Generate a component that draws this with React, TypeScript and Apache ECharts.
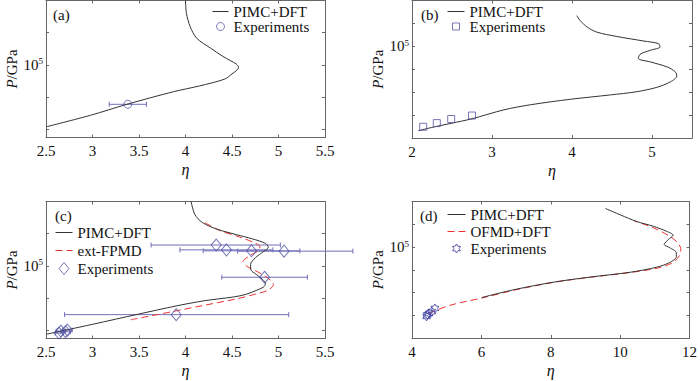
import React, { useEffect, useRef } from "react";
import * as echarts from "echarts";

const FONT = "Liberation Serif, Times New Roman, Times, serif";

// ---------- panel (a) ----------
const aPimcEta = [2.5, 2.98, 3.37, 3.87, 4.15, 4.42, 4.5, 4.56, 4.57, 4.55, 4.48, 4.4, 4.27, 4.12, 4.05, 4.01, 4.0];
const aPimcLgP = [3.08, 3.44, 3.78, 4.17, 4.35, 4.56, 4.72, 4.86, 4.93, 5.02, 5.14, 5.27, 5.52, 5.83, 6.19, 6.6, 7.0];
const aExpEta = [3.38];
const aExpLgP = [3.78];
const aExpLo = [3.18];
const aExpHi = [3.58];

// ---------- panel (b) ----------
const bPimcEta = [2.08, 2.31, 2.49, 2.75, 3.15, 3.48, 3.98, 4.48, 4.81, 5.06, 5.23, 5.31, 5.29, 5.19, 4.98, 4.83, 4.85, 4.98, 5.1, 5.08, 4.9, 4.56, 4.31, 4.19, 4.1, 4.06];
const bPimcLgP = [1.32, 1.51, 1.64, 1.84, 2.23, 2.45, 2.69, 2.88, 3.02, 3.21, 3.45, 3.7, 3.89, 4.1, 4.32, 4.47, 4.65, 4.83, 4.97, 5.12, 5.23, 5.43, 5.62, 5.84, 6.13, 6.34];
const bExpEta = [2.14, 2.31, 2.49, 2.75];
const bExpLgP = [1.49, 1.65, 1.83, 1.98];

// ---------- panel (c) ----------
const cPimcEta = [2.5, 3.0, 3.5, 3.9, 4.2, 4.52, 4.65, 4.76, 4.84, 4.86, 4.83, 4.76, 4.7, 4.7, 4.75, 4.84, 4.89, 4.86, 4.72, 4.55, 4.34, 4.18, 4.1, 4.06];
const cPimcLgP = [2.88, 3.19, 3.51, 3.76, 3.92, 4.04, 4.12, 4.24, 4.35, 4.45, 4.58, 4.74, 4.9, 5.05, 5.25, 5.45, 5.58, 5.7, 5.84, 5.97, 6.14, 6.35, 6.6, 7.0];
const cFpmdEta = [3.41, 3.87, 4.2, 4.55, 4.73, 4.88, 4.945, 4.91, 4.8, 4.66, 4.62, 4.68, 4.78, 4.8, 4.74, 4.58, 4.37, 4.19];
const cFpmdLgP = [3.33, 3.59, 3.78, 3.98, 4.11, 4.24, 4.42, 4.57, 4.78, 4.99, 5.14, 5.3, 5.47, 5.6, 5.72, 5.9, 6.1, 6.37];
const cExpEta = [4.33, 4.44, 4.71, 5.06, 4.85, 3.9, 2.64, 2.66, 2.71, 2.73];
const cExpLgP = [5.65, 5.5, 5.47, 5.46, 4.65, 3.49, 2.92, 2.98, 2.96, 3.01];
const cExpLo = [3.63, 3.94, 4.19, 4.56, 4.39, 2.7, 2.6, 2.61, 2.66, 2.68];
const cExpHi = [5.02, 4.94, 5.23, 5.8, 5.31, 5.11, 2.68, 2.71, 2.76, 2.78];

// ---------- panel (d) ----------
const dPimcEta = [6.01, 6.96, 8.1, 9.15, 10.29, 11.05, 11.43, 11.62, 11.62, 11.43, 11.27, 11.39, 11.53, 11.34, 10.96, 10.48, 10.01, 9.58];
const dPimcLgP = [2.78, 3.13, 3.46, 3.68, 3.89, 4.11, 4.32, 4.57, 4.75, 4.97, 5.11, 5.33, 5.52, 5.69, 5.91, 6.12, 6.41, 6.69];
const dOfmdEta = [4.48, 5.1, 6.05, 7.0, 8.1, 9.15, 10.3, 11.1, 11.5, 11.7, 11.75, 11.65, 11.4, 10.95, 10.4];
const dOfmdLgP = [2.08, 2.44, 2.77, 3.12, 3.45, 3.67, 3.88, 4.08, 4.3, 4.6, 4.9, 5.2, 5.5, 5.85, 6.15];
const dExpEta = [4.42, 4.44, 4.49, 4.57, 4.66];
const dExpLgP = [1.95, 2.02, 2.08, 2.16, 2.3];

// ---------- axes ----------
const aXTicks = [2.5, 3, 3.5, 4, 4.5, 5, 5.5];
const bXTicks = [2, 3, 4, 5];
const cXTicks = [2.5, 3, 3.5, 4, 4.5, 5, 5.5];
const dXTicks = [4, 6, 8, 10, 12];
const acYTicks = [3, 4, 5, 6];
const bdYTicks = [2, 3, 4, 5, 6];
const yLabelValues = [5];

const BLACK = "#333333";
const RED = "#ee3030";
const EXP = "#5555a8";
const EXP_BAR = "#7070bb";
const STAR = "#3838a0";
const DASH = [7, 4];

function hexagramPath(): string {
  const pts: string[] = [];
  for (let k = 0; k < 12; k++) {
    const ang = (-90 + k * 30) * (Math.PI / 180);
    const r = k % 2 === 0 ? 10 : 10 / Math.sqrt(3);
    const x = 10 + r * Math.cos(ang);
    const y = 10 + r * Math.sin(ang);
    pts.push((k === 0 ? "M" : "L") + x.toFixed(3) + "," + y.toFixed(3));
  }
  return "path://" + pts.join("") + "Z";
}

const zip = (xs: number[], ys: number[]) => xs.map((x, i) => [x, ys[i]]);

function errorBars(idx: number, xs: number[], ys: number[], lo: number[], hi: number[]) {
  return {
    type: "custom",
    xAxisIndex: idx,
    yAxisIndex: idx,
    silent: true,
    z: 1,
    clip: false,
    data: xs.map((x, i) => [x, ys[i], lo[i], hi[i]]),
    encode: { x: [0, 2, 3], y: 1 },
    renderItem: (params: any, api: any) => {
      const y = api.value(1);
      const p0 = api.coord([api.value(2), y]);
      const p1 = api.coord([api.value(3), y]);
      const c = 2.5;
      const style = { stroke: EXP_BAR, lineWidth: 1, fill: "none" };
      return {
        type: "group",
        children: [
          { type: "line", shape: { x1: p0[0], y1: p0[1], x2: p1[0], y2: p1[1] }, style },
          { type: "line", shape: { x1: p0[0], y1: p0[1] - c, x2: p0[0], y2: p0[1] + c }, style },
          { type: "line", shape: { x1: p1[0], y1: p1[1] - c, x2: p1[0], y2: p1[1] + c }, style },
        ],
      };
    },
  };
}

function buildOption() {
  const grids = [
    { left: 46, top: 0.5, width: 279, height: 137 },
    { left: 412, top: 0.5, width: 280, height: 137.5 },
    { left: 46, top: 201.5, width: 279, height: 137 },
    { left: 412, top: 201.5, width: 280, height: 136.5 },
  ];
  const xr = [
    { min: 2.5, max: 5.5, ticks: aXTicks },
    { min: 2, max: 5.5, ticks: bXTicks },
    { min: 2.5, max: 5.5, ticks: cXTicks },
    { min: 4, max: 12, ticks: dXTicks },
  ];
  const yr = [
    { min: 2.75, max: 7, ticks: acYTicks },
    { min: 1, max: 7, ticks: bdYTicks },
    { min: 2.75, max: 7, ticks: acYTicks },
    { min: 1, max: 7, ticks: bdYTicks },
  ];
  const axisLine = { show: true, onZero: false, lineStyle: { color: "#666", width: 1 } };
  const tick = (vals: number[]) => ({ show: true, inside: true, length: 3, customValues: vals, lineStyle: { color: "#666", width: 1 } });
  const tickText = { fontFamily: FONT, fontSize: 15, color: "#111" };

  const xAxis: any[] = [];
  const yAxis: any[] = [];
  for (let i = 0; i < 4; i++) {
    xAxis.push({
      type: "value", gridIndex: i, position: "bottom", min: xr[i].min, max: xr[i].max,
      axisLine, axisTick: tick(xr[i].ticks), splitLine: { show: false },
      axisLabel: {
        customValues: xr[i].ticks, margin: 6, ...tickText,
        formatter: (v: number) => "{t|" + String(v) + "}",
        rich: { t: { ...tickText } },
      },
      name: "η", nameLocation: "middle", nameGap: 24,
      nameTextStyle: { fontFamily: FONT, fontSize: 16, fontStyle: "italic", color: "#111" },
    });
  }
  for (let i = 0; i < 4; i++) {
    xAxis.push({
      type: "value", gridIndex: i, position: "top", min: xr[i].min, max: xr[i].max,
      axisLine, axisTick: tick(xr[i].ticks), splitLine: { show: false }, axisLabel: { show: false },
    });
  }
  for (let i = 0; i < 4; i++) {
    yAxis.push({
      type: "value", gridIndex: i, position: "left", min: yr[i].min, max: yr[i].max,
      axisLine, axisTick: tick(yr[i].ticks), splitLine: { show: false },
      axisLabel: {
        customValues: yLabelValues, margin: 3, ...tickText,
        formatter: () => "{t|10}{s|5}",
        rich: { t: { ...tickText }, s: { fontFamily: FONT, fontSize: 9, color: "#111", verticalAlign: "top", padding: [0, 0, 7, 0] } },
      },
      name: "{i|P}/GPa", nameLocation: "middle", nameGap: 27, nameRotate: 90,
      nameTextStyle: { fontFamily: FONT, fontSize: 15, color: "#111", rich: { i: { fontFamily: FONT, fontSize: 15, fontStyle: "italic", color: "#111" } } },
    });
  }
  for (let i = 0; i < 4; i++) {
    yAxis.push({
      type: "value", gridIndex: i, position: "right", min: yr[i].min, max: yr[i].max,
      axisLine, axisTick: tick(yr[i].ticks), splitLine: { show: false }, axisLabel: { show: false },
    });
  }

  const line = (name: string, idx: number, xs: number[], ys: number[], color: string, dashed: boolean) => ({
    name, type: "line", xAxisIndex: idx, yAxisIndex: idx, data: zip(xs, ys),
    symbol: "none", showSymbol: false, smooth: 0.3, z: dashed ? 2 : 3,
    lineStyle: { color, width: 1, type: dashed ? DASH : "solid" },
    itemStyle: { color },
  });
  const scatter = (name: string, idx: number, xs: number[], ys: number[], symbol: string, size: any, color: string) => ({
    name, type: "scatter", xAxisIndex: idx, yAxisIndex: idx, data: zip(xs, ys),
    symbol, symbolSize: size, symbolKeepAspect: true, z: 4,
    itemStyle: { color: "transparent", borderColor: color, borderWidth: 1 },
  });

  const star = hexagramPath();
  const series: any[] = [
    line("a|PIMC+DFT", 0, aPimcEta, aPimcLgP, BLACK, false),
    errorBars(0, aExpEta, aExpLgP, aExpLo, aExpHi),
    scatter("a|Experiments", 0, aExpEta, aExpLgP, "circle", 8, EXP),

    line("b|PIMC+DFT", 1, bPimcEta, bPimcLgP, BLACK, false),
    scatter("b|Experiments", 1, bExpEta, bExpLgP, "rect", 7, EXP),

    line("c|PIMC+DFT", 2, cPimcEta, cPimcLgP, BLACK, false),
    line("c|ext-FPMD", 2, cFpmdEta, cFpmdLgP, RED, true),
    errorBars(2, cExpEta, cExpLgP, cExpLo, cExpHi),
    scatter("c|Experiments", 2, cExpEta, cExpLgP, "diamond", [10, 12], EXP),

    line("d|PIMC+DFT", 3, dPimcEta, dPimcLgP, BLACK, false),
    line("d|OFMD+DFT", 3, dOfmdEta, dOfmdLgP, RED, true),
    scatter("d|Experiments", 3, dExpEta, dExpLgP, star, 9, STAR),
  ];

  const noSym = { color: "transparent", borderColor: "transparent", borderWidth: 0 };
  const lineItem = (name: string, color: string, dashed: boolean) => ({
    name,
    itemStyle: noSym,
    lineStyle: { color, width: 1, type: dashed ? DASH : "solid" },
  });
  const legendBase = {
    orient: "vertical", padding: 0, itemGap: 0, selectedMode: false,
    textStyle: { fontFamily: FONT, fontSize: 15, color: "#111" },
    formatter: (n: string) => n.split("|")[1],
    itemStyle: { borderWidth: 1 },
  };
  const legend = [
    { ...legendBase, left: 212, top: 4, itemWidth: 16, itemHeight: 8, data: [lineItem("a|PIMC+DFT", BLACK, false), "a|Experiments"] },
    { ...legendBase, left: 447, top: 4, itemWidth: 17, itemHeight: 7, data: [lineItem("b|PIMC+DFT", BLACK, false), { name: "b|Experiments", icon: "path://M0,0H10V10H0Z" }] },
    { ...legendBase, left: 55, top: 225, itemWidth: 17, itemHeight: 12, itemGap: 3, data: [lineItem("c|PIMC+DFT", BLACK, false), lineItem("c|ext-FPMD", RED, true), { name: "c|Experiments", icon: "path://M5,0L10,6L5,12L0,6Z" }] },
    { ...legendBase, left: 447, top: 207, itemWidth: 18, itemHeight: 9, itemGap: 2, data: [lineItem("d|PIMC+DFT", BLACK, false), lineItem("d|OFMD+DFT", RED, true), "d|Experiments"] },
  ];

  const label = (text: string, x: number, y: number) => ({
    type: "text", left: x, top: y, silent: true,
    style: { text, fontFamily: FONT, fontSize: 15, fill: "#111" },
  });

  return {
    animation: false,
    backgroundColor: "#ffffff",
    textStyle: { fontFamily: FONT },
    grid: grids,
    xAxis, yAxis, series, legend,
    graphic: [label("(a)", 53, 7), label("(b)", 421, 7), label("(c)", 55, 208), label("(d)", 420, 208)],
  };
}

export default function App() {
  const ref = useRef<HTMLDivElement>(null);
  useEffect(() => {
    if (!ref.current) return;
    const chart = echarts.init(ref.current, null, { renderer: "svg" });
    chart.setOption(buildOption() as any);
    return () => chart.dispose();
  }, []);
  return (
    <div
      ref={ref}
      style={{ position: "absolute", left: 0, top: 0, width: 700, height: 381, background: "#fff" }}
    />
  );
}
